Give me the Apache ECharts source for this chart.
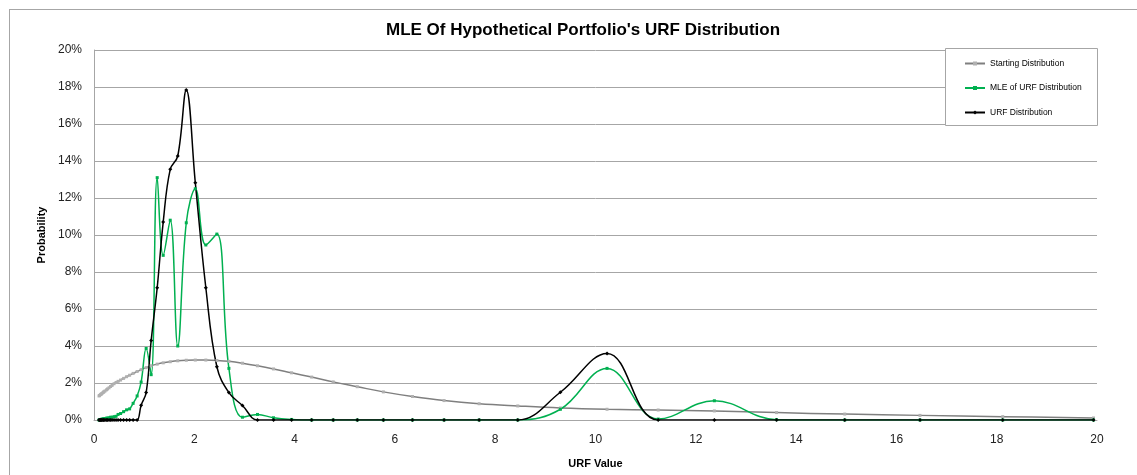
<!DOCTYPE html>
<html>
<head>
<meta charset="utf-8">
<title>MLE Of Hypothetical Portfolio's URF Distribution</title>
<script src="https://cdn.jsdelivr.net/npm/echarts@6/dist/echarts.min.js"></script>
<style>
    html, body {
        margin: 0;
        padding: 0;
        background: #fff;
        overflow: hidden;
    }
    .frame {
        position: absolute;
        left: 9px;
        top: 9px;
        width: 1140px;
        height: 480px;
        border: 1px solid #a6a6a6;
    }
    #urfChart {
        position: absolute;
        left: 0;
        top: 0;
        width: 1137px;
        height: 475px;
    }
</style>
</head>
<body>
<div class="frame"></div>
<div id="urfChart"></div>
<script>
    // URF value grid (x) shared by all three series
    const urfValues = [0.10, 0.11, 0.13, 0.14, 0.15, 0.17, 0.19, 0.20, 0.22, 0.25, 0.27, 0.30, 0.33, 0.36, 0.40, 0.44, 0.48, 0.53, 0.59, 0.65, 0.71, 0.78, 0.86,
        0.94, 1.04, 1.14, 1.26, 1.38, 1.52, 1.67, 1.84, 2.02, 2.23, 2.45, 2.69, 2.96,
        3.26, 3.58, 3.94, 4.34, 4.77, 5.25, 5.77, 6.35, 6.98, 7.68, 8.45, 9.30, 10.23, 11.25, 12.37, 13.61, 14.97, 16.47, 18.12, 19.93]

    // probabilities, in %
    const startingDist = [1.30, 1.33, 1.37, 1.39, 1.42, 1.46, 1.50, 1.53, 1.57, 1.63, 1.68, 1.74, 1.81, 1.87, 1.96, 2.03, 2.09, 2.16, 2.25, 2.34, 2.42, 2.52, 2.62,
        2.72, 2.83, 2.93, 3.02, 3.09, 3.15, 3.20, 3.23, 3.24, 3.24, 3.22, 3.17, 3.07,
        2.93, 2.76, 2.55, 2.32, 2.06, 1.80, 1.52, 1.27, 1.05, 0.88, 0.76, 0.65, 0.58, 0.54, 0.49, 0.40, 0.32, 0.25, 0.18, 0.11]

    const mleDist = [0, 0.01, 0.02, 0.03, 0.04, 0.05, 0.06, 0.07, 0.08, 0.10, 0.10, 0.12, 0.15, 0.15, 0.18, 0.20, 0.30, 0.35, 0.45, 0.55, 0.60, 0.90, 1.30,
        2.05, 3.87, 2.45, 13.1, 8.9, 10.8, 4.0, 10.66, 12.5, 9.46, 10.05, 2.79, 0.15,
        0.30, 0.12, 0.03, 0, 0, 0, 0, 0, 0, 0, 0, 0.58, 2.79, 0.05, 1.04, 0.02, 0, 0, 0, 0]

    const urfDist = [0, 0, 0, 0, 0, 0, 0, 0, 0, 0, 0, 0, 0, 0, 0, 0, 0, 0, 0, 0, 0, 0, 0,
        0.8, 1.48, 4.3, 7.15, 10.7, 13.55, 14.27, 17.84, 12.83, 7.15, 2.88, 1.48, 0.78,
        0, 0, 0, 0, 0, 0, 0, 0, 0, 0, 0, 1.5, 3.6, 0, 0, 0, 0, 0, 0, 0]

    const seriesNames = ['Starting Distribution', 'MLE of URF Distribution', 'URF Distribution']

    function pairs(arr) {
        return urfValues.map((x, i) => [x, arr[i]])
    }

    let myChart = echarts.init(document.getElementById('urfChart'))
    myChart.setOption({
        animation: false,
        textStyle: {
            fontFamily: '"Liberation Sans", Arial, sans-serif'
        },
        title: {
            text: "MLE Of Hypothetical Portfolio's URF Distribution",
            left: 381,
            top: 17,
            textStyle: {
                fontSize: 17,
                fontWeight: 'bold',
                color: '#000'
            }
        },
        grid: {
            left: 94,
            right: 40,
            top: 50,
            bottom: 55
        },
        legend: {
            data: seriesNames,
            orient: 'vertical',
            left: 946,
            top: 49,
            padding: [10, 16, 10, 18],
            itemGap: 15.5,
            itemWidth: 20,
            itemHeight: 5,
            textStyle: {
                fontSize: 8.5,
                color: '#000'
            }
        },
        // legend box: white fill under the legend, border on top
        graphic: [{
            type: 'rect',
            shape: { x: 945.5, y: 48.5, width: 152, height: 77 },
            style: { fill: '#fff' },
            z: 3
        }, {
            type: 'rect',
            shape: { x: 945.5, y: 48.5, width: 152, height: 77 },
            style: { fill: 'none', stroke: '#a6a6a6', lineWidth: 1 },
            z: 100
        }],
        xAxis: {
            type: 'value',
            min: 0,
            max: 20,
            interval: 2,
            name: 'URF Value',
            nameLocation: 'middle',
            nameGap: 38,
            nameTextStyle: {
                fontSize: 11,
                fontWeight: 'bold',
                color: '#000'
            },
            axisLine: { lineStyle: { color: '#a6a6a6' } },
            axisTick: { show: false },
            splitLine: { show: false },
            axisLabel: {
                fontSize: 12,
                color: '#222',
                margin: 14
            }
        },
        yAxis: {
            type: 'value',
            min: 0,
            max: 20,
            interval: 2,
            name: 'Probability',
            nameLocation: 'middle',
            nameRotate: 90,
            nameGap: 41,
            nameTextStyle: {
                fontSize: 11,
                fontWeight: 'bold',
                color: '#000'
            },
            axisLine: { show: true, lineStyle: { color: '#a6a6a6' } },
            axisTick: { show: false },
            splitLine: { lineStyle: { color: '#a6a6a6' } },
            axisLabel: {
                formatter: '{value}%',
                fontSize: 12,
                color: '#222',
                margin: 12
            }
        },
        series: [
            {
                name: seriesNames[0],
                type: 'line',
                smooth: 0.4,
                symbol: 'rect',
                symbolSize: 3,
                color: '#7f7f7f',
                itemStyle: { color: '#b0b0b0' },
                lineStyle: { color: '#7f7f7f', width: 1.5 },
                data: pairs(startingDist)
            },
            {
                name: seriesNames[1],
                type: 'line',
                smooth: 0.4,
                symbol: 'rect',
                symbolSize: 3,
                color: '#00b050',
                lineStyle: { color: '#00b050', width: 1.5 },
                data: pairs(mleDist)
            },
            {
                name: seriesNames[2],
                type: 'line',
                smooth: 0.4,
                symbol: 'diamond',
                symbolSize: 4,
                color: '#000',
                lineStyle: { color: '#000', width: 1.5 },
                data: pairs(urfDist)
            }
        ]
    })
</script>
</body>
</html>
